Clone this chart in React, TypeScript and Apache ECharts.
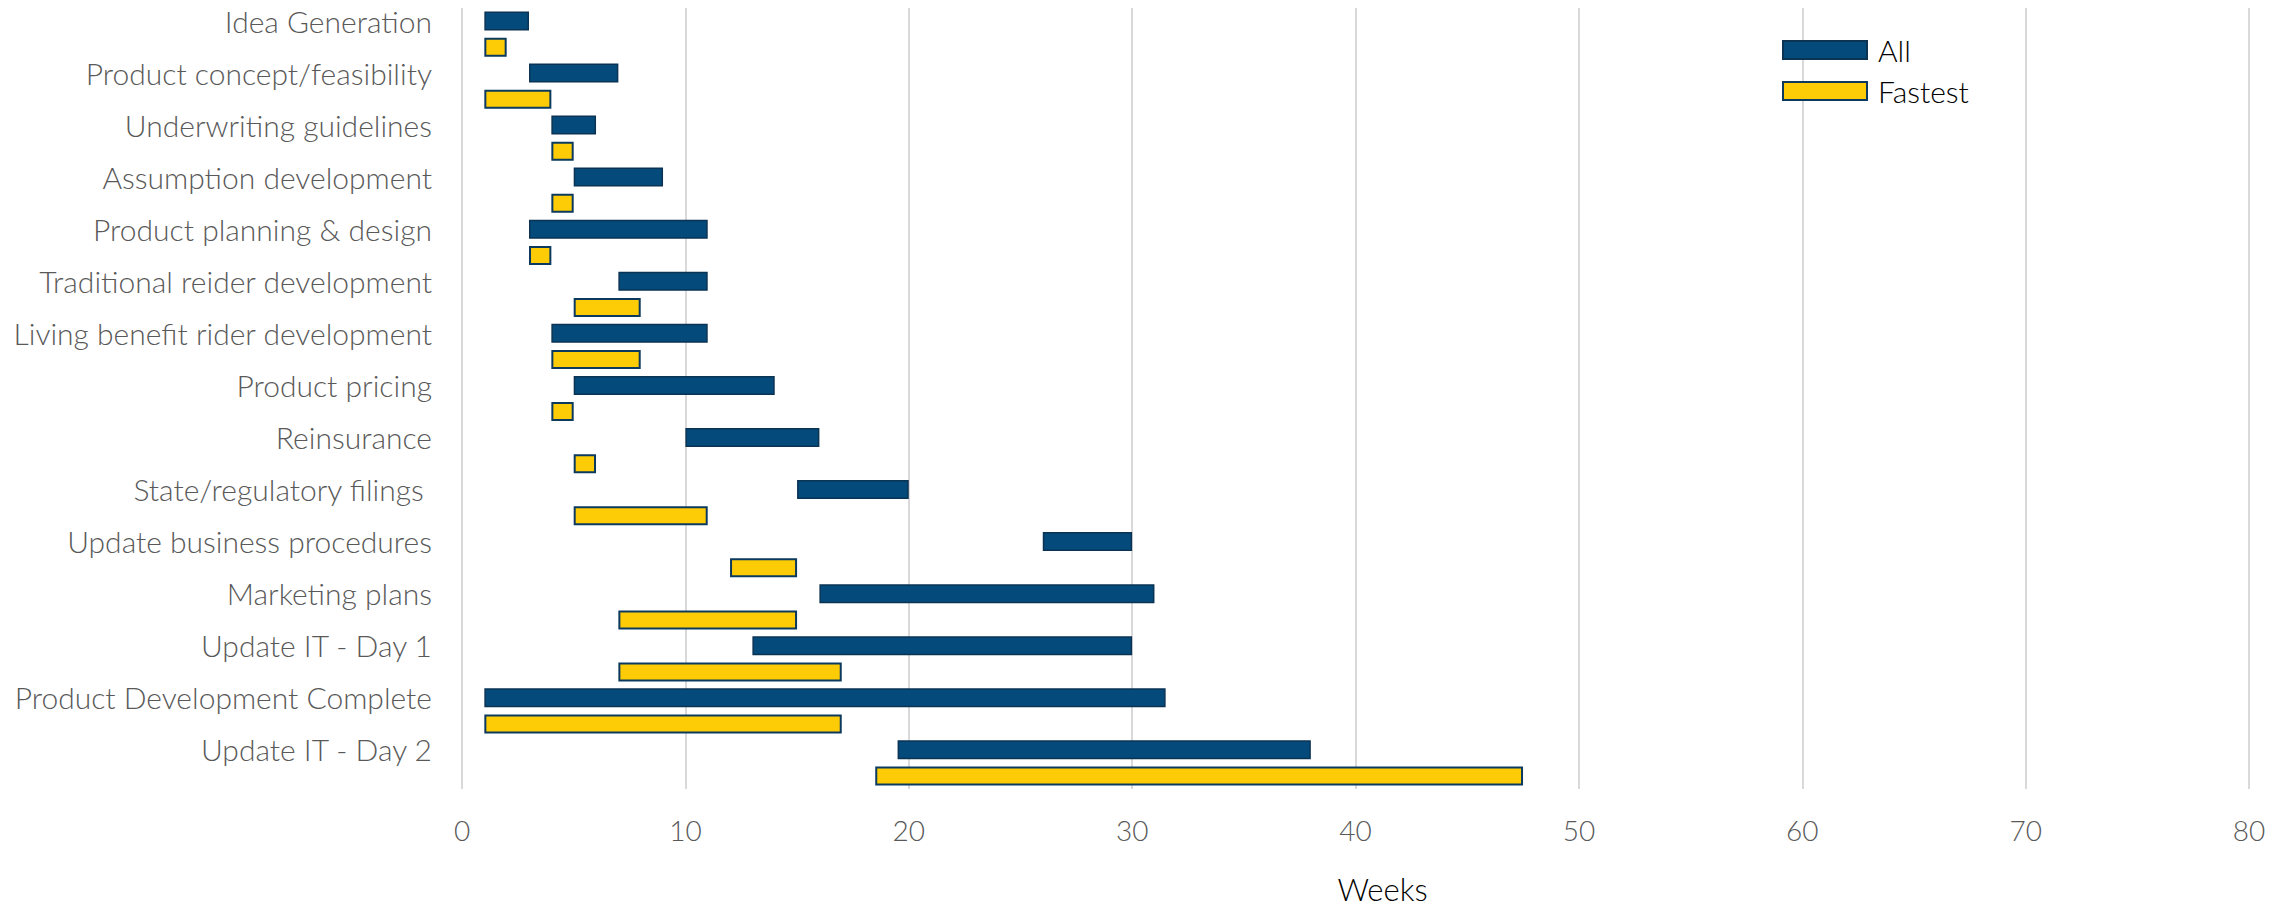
import React, { useEffect, useRef } from "react";
import * as echarts from "echarts";

const categories = [
  "Idea Generation",
  "Product concept/feasibility",
  "Underwriting guidelines",
  "Assumption development",
  "Product planning & design",
  "Traditional reider development",
  "Living benefit rider development",
  "Product pricing",
  "Reinsurance",
  "State/regulatory filings ",
  "Update business procedures",
  "Marketing plans",
  "Update IT - Day 1",
  "Product Development Complete",
  "Update IT - Day 2",
];

const allStart = [1, 3, 4, 5, 3, 7, 4, 5, 10, 15, 26, 16, 13, 1, 19.5];
const allEnd = [3, 7, 6, 9, 11, 11, 11, 14, 16, 20, 30, 31, 30, 31.5, 38];
const fastStart = [1, 1, 4, 4, 3, 5, 4, 4, 5, 5, 12, 7, 7, 1, 18.5];
const fastEnd = [2, 4, 5, 5, 4, 8, 8, 5, 6, 11, 15, 15, 17, 17, 47.5];

const xTicks = { min: 0, max: 80, interval: 10 };

const ALL_COLOR = "#044A7A";
const ALL_BORDER = "#0B3354";
const FAST_COLOR = "#FECC07";
const FAST_BORDER = "#0B3A5E";
const FONT = "Lato";

export default function App() {
  const ref = useRef<HTMLDivElement>(null);

  useEffect(() => {
    if (!ref.current) return;
    const chart = echarts.init(ref.current, null, { renderer: "svg" });
    const allDur = allEnd.map((e, i) => +(e - allStart[i]).toFixed(2));
    const fastDur = fastEnd.map((e, i) => +(e - fastStart[i]).toFixed(2));
    const barW = 19;
    chart.setOption({
      animation: false,
      backgroundColor: "#ffffff",
      grid: { left: 462, right: 35, top: 8, bottom: 117, containLabel: false },
      legend: {
        orient: "vertical",
        left: 1777,
        top: 29,
        icon: "rect",
        itemWidth: 84,
        itemHeight: 18,
        itemGap: 9,
        data: ["All", "Fastest"],
        textStyle: {
          fontFamily: FONT,
          fontSize: 30,
          fontWeight: 300,
          color: "#000000",
          lineHeight: 18,
          padding: [14, 0, 0, 6],
        },
      },
      xAxis: {
        type: "value",
        min: xTicks.min,
        max: xTicks.max,
        interval: xTicks.interval,
        axisLine: { show: false },
        axisTick: { show: false },
        splitLine: { show: true, lineStyle: { color: "#D9D9D9", width: 2 } },
        axisLabel: {
          margin: 27,
          fontFamily: FONT,
          fontSize: 28,
          fontWeight: 300,
          color: "#595959",
        },
        name: "Weeks",
        nameLocation: "middle",
        nameGap: 84,
        nameTextStyle: {
          fontFamily: FONT,
          fontSize: 31,
          fontWeight: 300,
          color: "#000000",
          padding: [0, 0, 0, 54],
        },
      },
      yAxis: {
        type: "category",
        data: categories,
        inverse: true,
        axisLine: { show: false },
        axisTick: { show: false },
        splitLine: { show: false },
        axisLabel: {
          margin: 30,
          fontFamily: FONT,
          fontSize: 30,
          fontWeight: 300,
          color: "#595959",
          verticalAlign: "bottom",
          lineHeight: 27,
        },
      },
      series: [
        {
          name: "allBase",
          type: "bar",
          stack: "all",
          data: allStart,
          barWidth: barW,
          barGap: "38%",
          itemStyle: { color: "transparent" },
          silent: true,
        },
        {
          name: "All",
          type: "bar",
          stack: "all",
          data: allDur,
          barWidth: barW,
          barGap: "38%",
          itemStyle: { color: ALL_COLOR, borderColor: ALL_BORDER, borderWidth: 1.5 },
        },
        {
          name: "fastBase",
          type: "bar",
          stack: "fast",
          data: fastStart,
          barWidth: barW,
          barGap: "38%",
          itemStyle: { color: "transparent" },
          silent: true,
        },
        {
          name: "Fastest",
          type: "bar",
          stack: "fast",
          data: fastDur,
          barWidth: barW,
          barGap: "38%",
          itemStyle: { color: FAST_COLOR, borderColor: FAST_BORDER, borderWidth: 2 },
        },
      ],
    });
    return () => chart.dispose();
  }, []);

  return (
    <div
      ref={ref}
      style={{ position: "fixed", left: 0, top: 0, width: 2284, height: 909 }}
    />
  );
}
